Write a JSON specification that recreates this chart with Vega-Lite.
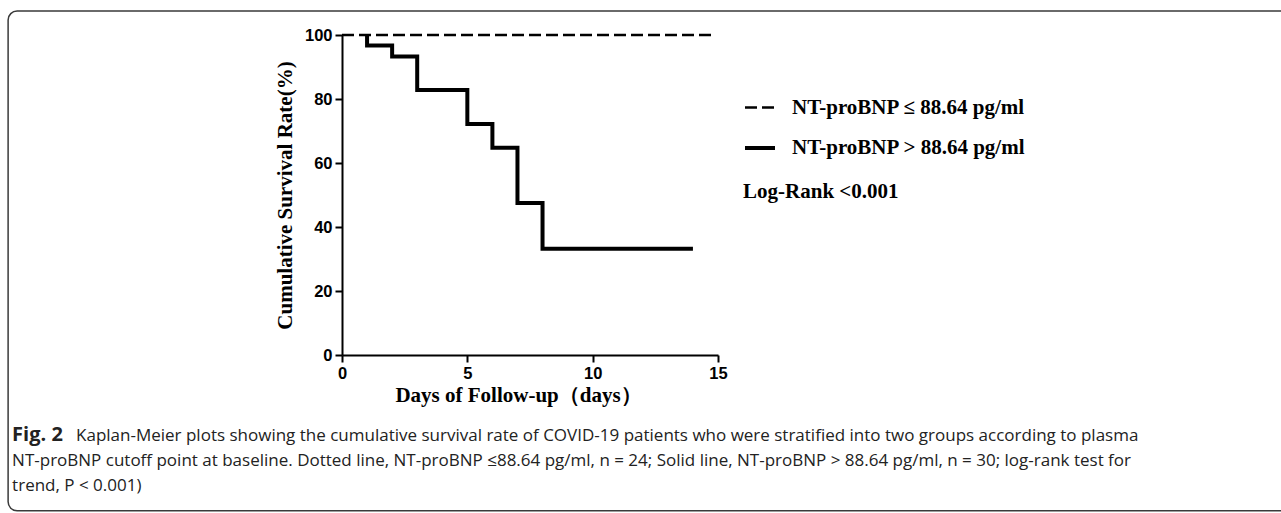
{
  "$schema": "https://vega.github.io/schema/vega-lite/v6.json",
  "width": 376,
  "height": 320,
  "padding": {"left": 7, "top": 10, "right": 0, "bottom": 0},
  "background": "white",
  "config": {
    "view": {"stroke": null},
    "axis": {
      "grid": false,
      "domainColor": "black",
      "domainWidth": 2,
      "tickColor": "black",
      "tickWidth": 2,
      "tickSize": 7,
      "labelFlush": false,
      "labelOverlap": false,
      "labelFont": "Liberation Sans",
      "labelFontWeight": "bold",
      "labelFontSize": 16.5,
      "labelColor": "black",
      "titleFont": "Liberation Serif",
      "titleFontWeight": "bold",
      "titleFontSize": 21,
      "titleColor": "black"
    }
  },
  "layer": [
    {
      "data": {"values": [{}]},
      "mark": {"type": "rect", "fillOpacity": 0, "stroke": "#3a3a3a", "strokeWidth": 1.5, "cornerRadius": 9, "clip": false},
      "encoding": {
        "x": {"datum": -13.32, "type": "quantitative", "scale": {"domain": [0, 15], "nice": false, "zero": false}},
        "x2": {"datum": 38.5},
        "y": {"datum": 107.5, "type": "quantitative", "scale": {"domain": [0, 100], "nice": false}},
        "y2": {"datum": -48.7}
      }
    },
    {
      "data": {
        "values": [
          {"day": 0, "surv": 100, "group": "NT-proBNP ≤ 88.64 pg/ml"},
          {"day": 14.76, "surv": 100, "group": "NT-proBNP ≤ 88.64 pg/ml"},
          {"day": 1, "surv": 100, "group": "NT-proBNP > 88.64 pg/ml"},
          {"day": 1, "surv": 96.7, "group": "NT-proBNP > 88.64 pg/ml"},
          {"day": 2, "surv": 93.3, "group": "NT-proBNP > 88.64 pg/ml"},
          {"day": 3, "surv": 82.8, "group": "NT-proBNP > 88.64 pg/ml"},
          {"day": 5, "surv": 72.2, "group": "NT-proBNP > 88.64 pg/ml"},
          {"day": 6, "surv": 64.8, "group": "NT-proBNP > 88.64 pg/ml"},
          {"day": 7, "surv": 47.5, "group": "NT-proBNP > 88.64 pg/ml"},
          {"day": 8, "surv": 33.2, "group": "NT-proBNP > 88.64 pg/ml"},
          {"day": 14, "surv": 33.2, "group": "NT-proBNP > 88.64 pg/ml"}
        ]
      },
      "mark": {"type": "line", "interpolate": "step-after", "color": "black", "clip": false},
      "encoding": {
        "x": {
          "field": "day", "type": "quantitative",
          "scale": {"domain": [0, 15], "nice": false, "zero": false},
          "axis": {"values": [0, 5, 10, 15], "labelPadding": 3, "title": "Days of Follow-up（days）", "titlePadding": 3, "titleX": 176, "titleAlign": "center"}
        },
        "y": {
          "field": "surv", "type": "quantitative",
          "scale": {"domain": [0, 100], "nice": false},
          "axis": {"values": [0, 20, 40, 60, 80, 100], "labelPadding": 3, "title": "Cumulative Survival Rate(%)", "titlePadding": 9}
        },
        "strokeDash": {
          "field": "group", "type": "nominal",
          "scale": {"domain": ["NT-proBNP ≤ 88.64 pg/ml", "NT-proBNP > 88.64 pg/ml"], "range": [[12, 5], [1, 0]]},
          "legend": {
            "title": null,
            "orient": "none",
            "legendX": 401,
            "legendY": 56,
            "direction": "vertical",
            "padding": 0,
            "symbolType": "stroke",
            "symbolSize": 900,
            "symbolStrokeWidth": 4,
            "symbolStrokeColor": "black",
            "labelFont": "Liberation Serif",
            "labelFontWeight": "bold",
            "labelFontSize": 21,
            "labelColor": "black",
            "labelOffset": 15,
            "labelLimit": 500,
            "rowPadding": 13
          }
        },
        "strokeWidth": {
          "field": "group", "type": "ordinal",
          "scale": {"domain": ["NT-proBNP ≤ 88.64 pg/ml", "NT-proBNP > 88.64 pg/ml"], "range": [2.6, 4]},
          "legend": null
        }
      }
    },
    {
      "data": {"values": [{"label": "Log-Rank <0.001"}]},
      "mark": {"type": "text", "font": "Liberation Serif", "fontWeight": "bold", "fontSize": 21, "align": "left", "baseline": "middle", "color": "black", "clip": false},
      "encoding": {
        "x": {"datum": 16.0, "type": "quantitative"},
        "y": {"datum": 50.9, "type": "quantitative"},
        "text": {"field": "label"}
      }
    },
    {
      "data": {"values": [{"label": "Fig. 2"}]},
      "mark": {"type": "text", "font": "Open Sans", "fontWeight": "bold", "fontSize": 20, "align": "left", "baseline": "alphabetic", "color": "#222", "clip": false},
      "encoding": {
        "x": {"datum": -13.16, "type": "quantitative"},
        "y": {"datum": -26.9, "type": "quantitative"},
        "text": {"field": "label"}
      }
    },
    {
      "data": {"values": [{"label": "Kaplan-Meier plots showing the cumulative survival rate of COVID-19 patients who were stratified into two groups according to plasma"}]},
      "mark": {"type": "text", "font": "Open Sans", "fontSize": 17, "align": "left", "baseline": "alphabetic", "color": "#222", "clip": false},
      "encoding": {
        "x": {"datum": -10.61, "type": "quantitative"},
        "y": {"datum": -26.9, "type": "quantitative"},
        "text": {"field": "label"}
      }
    },
    {
      "data": {"values": [{"label": "NT-proBNP cutoff point at baseline. Dotted line, NT-proBNP ≤88.64 pg/ml, n = 24; Solid line, NT-proBNP > 88.64 pg/ml, n = 30; log-rank test for"}]},
      "mark": {"type": "text", "font": "Open Sans", "fontSize": 17, "align": "left", "baseline": "alphabetic", "color": "#222", "clip": false},
      "encoding": {
        "x": {"datum": -13.16, "type": "quantitative"},
        "y": {"datum": -34.7, "type": "quantitative"},
        "text": {"field": "label"}
      }
    },
    {
      "data": {"values": [{"label": "trend, P < 0.001)"}]},
      "mark": {"type": "text", "font": "Open Sans", "fontSize": 17, "align": "left", "baseline": "alphabetic", "color": "#222", "clip": false},
      "encoding": {
        "x": {"datum": -13.16, "type": "quantitative"},
        "y": {"datum": -42.5, "type": "quantitative"},
        "text": {"field": "label"}
      }
    }
  ]
}
